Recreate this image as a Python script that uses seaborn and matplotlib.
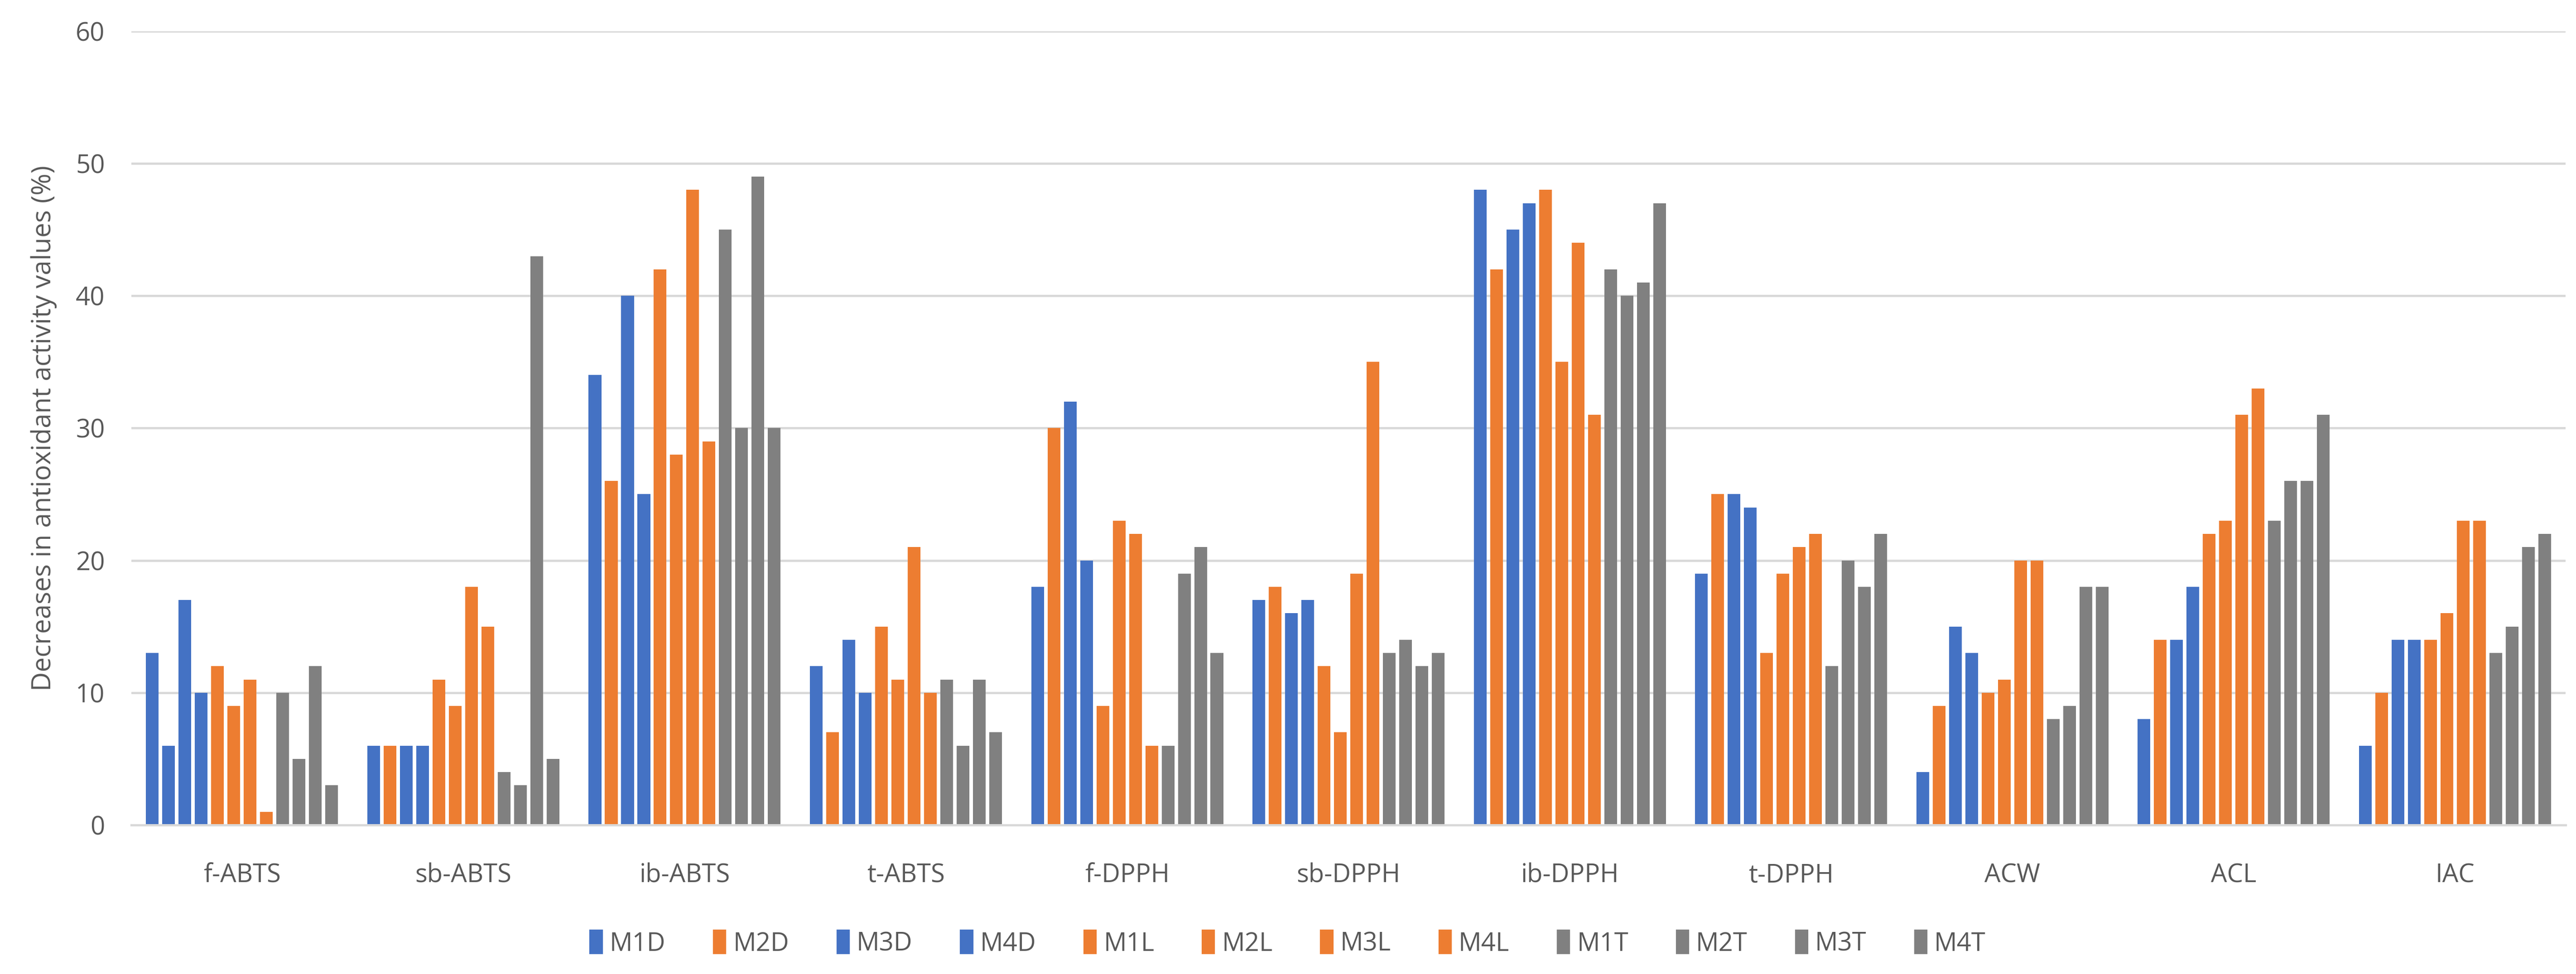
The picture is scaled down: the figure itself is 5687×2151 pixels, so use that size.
import pandas as pd
import numpy as np
import matplotlib
matplotlib.use("Agg")
import matplotlib.pyplot as plt
import seaborn as sns

categories = ["f-ABTS", "sb-ABTS", "ib-ABTS", "t-ABTS", "f-DPPH", "sb-DPPH",
              "ib-DPPH", "t-DPPH", "ACW", "ACL", "IAC"]

M1D = [13, 6, 34, 12, 18, 17, 48, 19, 4, 8, 6]
M2D = [6, 6, 26, 7, 30, 18, 42, 25, 9, 14, 10]
M3D = [17, 6, 40, 14, 32, 16, 45, 25, 15, 14, 14]
M4D = [10, 6, 25, 10, 20, 17, 47, 24, 13, 18, 14]
M1L = [12, 11, 42, 15, 9, 12, 48, 13, 10, 22, 14]
M2L = [9, 9, 28, 11, 23, 7, 35, 19, 11, 23, 16]
M3L = [11, 18, 48, 21, 22, 19, 44, 21, 20, 31, 23]
M4L = [1, 15, 29, 10, 6, 35, 31, 22, 20, 33, 23]
M1T = [10, 4, 45, 11, 6, 13, 42, 12, 8, 23, 13]
M2T = [5, 3, 30, 6, 19, 14, 40, 20, 9, 26, 15]
M3T = [12, 43, 49, 11, 21, 12, 41, 18, 18, 26, 21]
M4T = [3, 5, 30, 7, 13, 13, 47, 22, 18, 31, 22]

series_names = ["M1D", "M2D", "M3D", "M4D", "M1L", "M2L", "M3L", "M4L",
                "M1T", "M2T", "M3T", "M4T"]
series_values = [M1D, M2D, M3D, M4D, M1L, M2L, M3L, M4L, M1T, M2T, M3T, M4T]

BLUE = "#4472C4"
ORANGE = "#ED7D31"
GRAY = "#808080"
series_colors = [BLUE, ORANGE, BLUE, BLUE, ORANGE, ORANGE, ORANGE, ORANGE,
                 GRAY, GRAY, GRAY, GRAY]

rows = []
for name, vals in zip(series_names, series_values):
    for cat, v in zip(categories, vals):
        rows.append({"category": cat, "series": name, "value": v})
df = pd.DataFrame(rows)

sns.set_theme(style="white")
plt.rcParams["font.family"] = ["Open Sans", "DejaVu Sans"]

fig, ax = plt.subplots(figsize=(5687 / 300, 2151 / 300), dpi=300)
fig.subplots_adjust(left=0.051, right=0.996, top=0.968, bottom=0.153)

sns.barplot(data=df, x="category", y="value", hue="series",
            hue_order=series_names, order=categories,
            palette=dict(zip(series_names, series_colors)),
            width=0.884, gap=0.22, saturation=1, errorbar=None,
            linewidth=0, ax=ax, legend=False)

# the M2D bar for f-ABTS is blue in the original
ax.containers[1][0].set_facecolor(BLUE)

ax.set_ylim(0, 60)
ax.set_yticks(np.arange(0, 61, 10))
ax.set_xlim(-0.5, len(categories) - 0.5)
ax.yaxis.grid(True, color="#D9D9D9", linewidth=1.2)
ax.set_axisbelow(True)
for s in ["top", "right", "left"]:
    ax.spines[s].set_visible(False)
ax.spines["bottom"].set_color("#D9D9D9")
ax.spines["bottom"].set_linewidth(1.2)
ax.tick_params(axis="both", length=0, labelsize=13.5, labelcolor="#595959")
ax.tick_params(axis="x", pad=20)
ax.tick_params(axis="y", pad=14)
ax.set_xlabel("")
ax.set_ylabel("Decreases in antioxidant activity values (%)", fontsize=14,
              color="#595959", labelpad=10)

# legend centred on the whole figure, like Excel does
handles = [plt.Rectangle((0, 0), 1, 1, color=c) for c in series_colors]
fig.legend(handles, series_names, loc="center", ncol=12,
           bbox_to_anchor=(0.5, 0.031), frameon=False, fontsize=13.5,
           handlelength=0.45, handleheight=1.0, handletextpad=0.3,
           columnspacing=1.9, labelcolor="#595959")

fig.savefig("out.png", dpi=300, facecolor="white")
